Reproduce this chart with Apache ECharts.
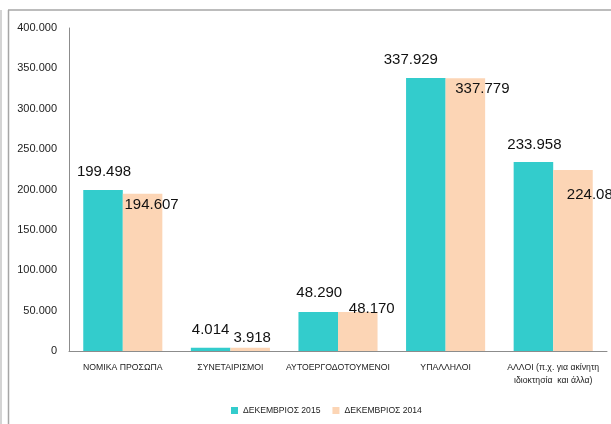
<!DOCTYPE html>
<html>
<head>
<meta charset="utf-8">
<script src="https://cdn.jsdelivr.net/npm/echarts@6/dist/echarts.min.js"></script>
<style>
html,body{margin:0;padding:0;background:#fff;}
#chart{width:611px;height:424px;}
</style>
</head>
<body>
<div id="chart"></div>
<script>
var categories = ['ΝΟΜΙΚΑ ΠΡΟΣΩΠΑ', 'ΣΥΝΕΤΑΙΡΙΣΜΟΙ', 'ΑΥΤΟΕΡΓΟΔΟΤΟΥΜΕΝΟΙ', 'ΥΠΑΛΛΗΛΟΙ', 'ΑΛΛΟΙ (π.χ. για ακίνητη\nιδιοκτησία  και άλλα)'];
var seriesNames = ['ΔΕΚΕΜΒΡΙΟΣ 2015', 'ΔΕΚΕΜΒΡΙΟΣ 2014'];
var values2015 = [199498, 4014, 48290, 337929, 233958];
var values2014 = [194607, 3918, 48170, 337779, 224087];
var yTicks = [0, 50000, 100000, 150000, 200000, 250000, 300000, 350000, 400000];

// label layout tweaks (x, y offsets in px), mirroring the reference's hand-placed labels
var labelOffsets2015 = [[1, 0], [0, 0], [1, -1], [-15, 0], [1, 1]];
var labelOffsets2014 = [[9, 18.5], [2, -2], [14, 4.5], [17, 18.5], [21, 32.5]];

var FONT = '"Liberation Sans Narrow", "Liberation Sans", Arial, sans-serif';

function fmt(v) {
  return String(Math.round(v)).replace(/\B(?=(\d{3})+(?!\d))/g, '.');
}

function buildData(vals, offs) {
  return vals.map(function (v, i) {
    return { value: v, label: { offset: offs[i] } };
  });
}

var chart = echarts.init(document.getElementById('chart'), null, { renderer: 'canvas' });
chart.setOption({
  animation: false,
  backgroundColor: '#ffffff',
  textStyle: { fontFamily: FONT },
  graphic: [
    { type: 'line', shape: { x1: 1, y1: 10, x2: 1, y2: 424 }, style: { stroke: '#d4d4d4', lineWidth: 2 }, silent: true },
    { type: 'line', shape: { x1: 8.5, y1: 10, x2: 8.5, y2: 424 }, style: { stroke: '#a6a6a6', lineWidth: 1.5 }, silent: true },
    { type: 'line', shape: { x1: 8, y1: 10, x2: 611, y2: 10 }, style: { stroke: '#a6a6a6', lineWidth: 1.5 }, silent: true }
  ],
  grid: { left: 69, right: 4, top: 28, bottom: 73, containLabel: false },
  legend: {
    data: seriesNames,
    left: 226,
    top: 401,
    itemWidth: 7,
    itemHeight: 7,
    itemGap: 12,
    icon: 'rect',
    textStyle: { fontFamily: FONT, fontSize: 8.6, color: '#222' }
  },
  xAxis: {
    type: 'category',
    data: categories,
    axisLine: { show: true, lineStyle: { color: '#8c8c8c', width: 1 } },
    axisTick: { show: false },
    axisLabel: { interval: 0, margin: 10, fontFamily: FONT, fontSize: 8.7, color: '#222', lineHeight: 13 }
  },
  yAxis: {
    type: 'value',
    min: yTicks[0],
    max: yTicks[yTicks.length - 1],
    interval: yTicks[1] - yTicks[0],
    splitLine: { show: false },
    axisLine: { show: true, lineStyle: { color: '#8c8c8c', width: 1 } },
    axisTick: { show: false },
    axisLabel: { margin: 12, fontFamily: FONT, fontSize: 11, color: '#222', formatter: fmt }
  },
  series: [
    {
      name: seriesNames[0],
      type: 'bar',
      data: buildData(values2015, labelOffsets2015),
      barGap: '0%',
      barCategoryGap: '26.5%',
      itemStyle: { color: '#33CCCC' },
      label: { show: true, position: 'top', distance: 10.5, fontFamily: FONT, fontSize: 15, color: '#111', formatter: function (p) { return fmt(p.value); } }
    },
    {
      name: seriesNames[1],
      type: 'bar',
      data: buildData(values2014, labelOffsets2014),
      barGap: '0%',
      barCategoryGap: '26.5%',
      itemStyle: { color: '#FCD5B5' },
      label: { show: true, position: 'top', distance: 0, fontFamily: FONT, fontSize: 15, color: '#111', formatter: function (p) { return fmt(p.value); } }
    }
  ]
});
</script>
</body>
</html>
